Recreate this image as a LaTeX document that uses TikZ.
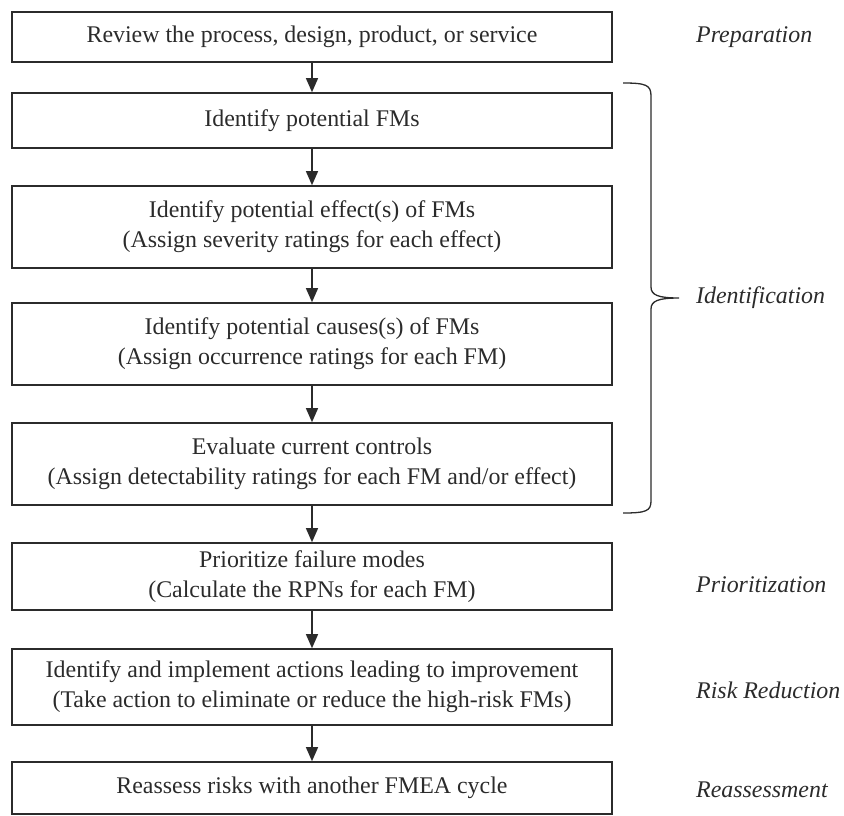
\documentclass[tikz,border=0pt]{standalone}
\usepackage{fontspec}
\setmainfont{Liberation Serif}
\usetikzlibrary{arrows.meta}
\definecolor{ink}{HTML}{2B2B2B}
\begin{document}
\begin{tikzpicture}[x=1bp,y={(0,-1bp)},
  stepbox/.style={draw=ink,line width=1.6bp,minimum width=600bp,inner sep=0pt,
    align=center,text=ink,font=\fontsize{24}{30}\selectfont},
  flow/.style={draw=ink,line width=1.3bp,-{Triangle[width=12bp,length=14bp]}},
  phase/.style={anchor=west,text=ink,inner sep=0pt,font=\fontsize{24}{28}\selectfont\itshape},
  brace/.style={draw=ink,line width=1.3bp}]
\useasboundingbox (0,0) rectangle (844,816);

% process steps
\node[stepbox,minimum height=50bp] (b1) at (312,37) {Review the process, design, product, or service};
\node[stepbox,minimum height=55bp] (b2) at (312,120.5) {Identify potential FMs};
\node[stepbox,minimum height=82bp] (b3) at (312,227) {Identify potential effect(s) of FMs\\(Assign severity ratings for each effect)};
\node[stepbox,minimum height=82bp] (b4) at (312,344) {Identify potential causes(s) of FMs\\(Assign occurrence ratings for each FM)};
\node[stepbox,minimum height=82bp] (b5) at (312,464) {Evaluate current controls\\(Assign detectability ratings for each FM and/or effect)};
\node[stepbox,minimum height=67bp] (b6) at (312,576.5) {Prioritize failure modes\\(Calculate the RPNs for each FM)};
\node[stepbox,minimum height=76bp] (b7) at (312,687) {Identify and implement actions leading to improvement\\(Take action to eliminate or reduce the high-risk FMs)};
\node[stepbox,minimum height=52bp] (b8) at (312,788) {Reassess risks with another FMEA cycle};

% connectors
\foreach \a/\b in {b1/b2,b2/b3,b3/b4,b4/b5,b5/b6,b6/b7,b7/b8}
  \draw[flow] (\a) -- (\b);

% brace grouping the identification steps
\coordinate (bt) at (623,83);
\coordinate (bm) at (679,298);
\coordinate (bb) at (623,513);
\draw[brace] (bt) .. controls (646,83) and (651,85) .. (651,96)
  -- (651,287) .. controls (651,295) and (658,298) .. (bm)
  .. controls (658,298) and (651,301) .. (651,309)
  -- (651,501) .. controls (651,511) and (646,513) .. (bb);

% phase labels
\node[phase] (p1) at (696,37) {Preparation};
\node[phase] (p2) at (696,298) {Identification};
\node[phase] (p3) at (696,585) {Prioritization};
\node[phase] (p4) at (696,690) {Risk Reduction};
\node[phase] (p5) at (696,790) {Reassessment};
\end{tikzpicture}
\end{document}
